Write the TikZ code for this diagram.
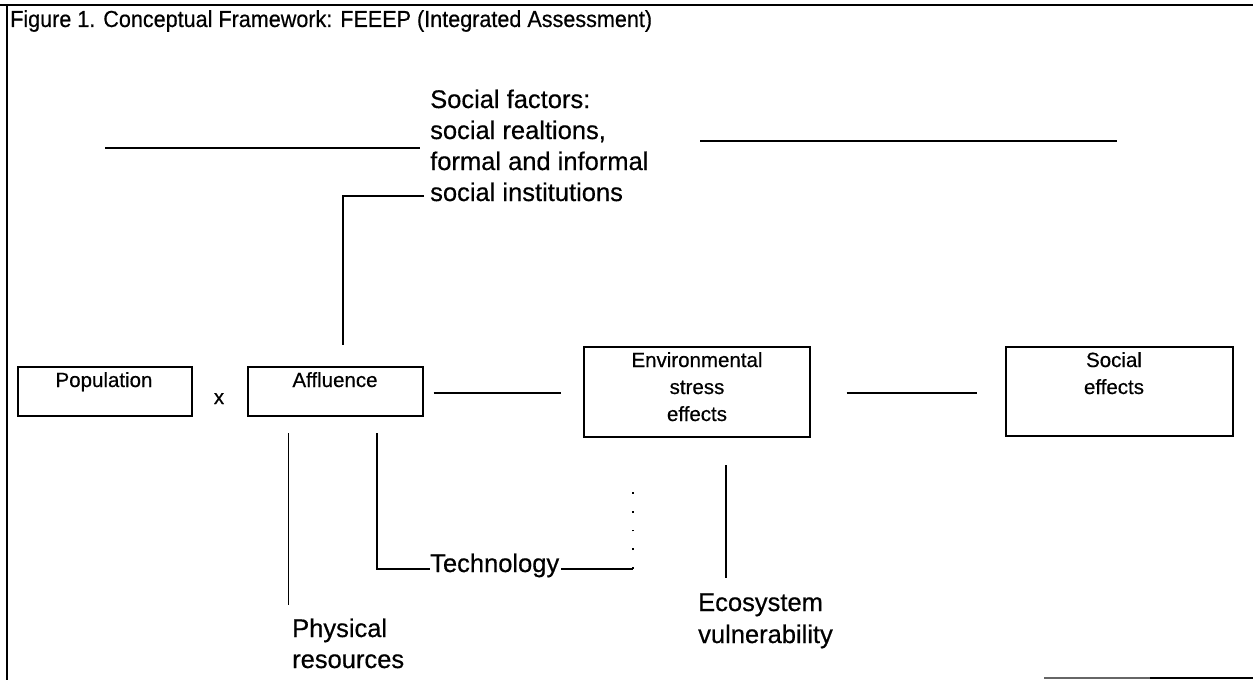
\documentclass[tikz,border=0pt]{standalone}
\usepackage{fontspec}
\setmainfont[FakeBold=0.5]{Liberation Sans}
\newfontfamily\titlefont[FakeStretch=0.93,FakeBold=0.5]{Liberation Sans}
\usetikzlibrary{calc}
\begin{document}
\begin{tikzpicture}[x=1pt,y=-1pt,
  boxnode/.style={draw=black, line width=1.2pt, inner sep=0pt},
  boxtext/.style={anchor=base, inner sep=0pt, font=\fontsize{20.5}{24}\selectfont},
  bigtext/.style={anchor=base west, inner sep=0pt, font=\fontsize{25.5}{31}\selectfont},
  titletext/.style={anchor=base west, inner sep=0pt, font=\titlefont\fontsize{23.2}{27}\selectfont},
  conn/.style={line width=1.2pt, black},
  thinconn/.style={line width=0.9pt, black},
  dotconn/.style={line width=1.3pt, black, dash pattern=on 1.8pt off 17pt},
  frame/.style={line width=2.6pt, black}]
\useasboundingbox (0,0) rectangle (1259,680);
% frame
\coordinate (ftl) at (0,5);
\coordinate (ftr) at (1253,5);
\coordinate (flt) at (7,4);
\coordinate (flb) at (7,680);
\coordinate (fbl) at (1044,678);
\coordinate (fbr) at (1253,678);
\draw[frame] (ftl) -- (ftr);
\draw[frame] (flt) -- (flb);
\draw[line width=1.6pt, black!60] (fbl) -- ($(fbl)+(106,0)$);
\draw[line width=2pt] ($(fbl)+(106,0)$) -- (fbr);
% title
\node[titletext] (title) at (10,27) {Figure 1. Conceptual Framework: FEEEP (Integrated Assessment)};
% social factors
\node[bigtext] (sf1) at (430,108) {Social factors:};
\node[bigtext] (sf2) at (430,139) {social realtions,};
\node[bigtext] (sf3) at (430,170) {formal and informal};
\node[bigtext] (sf4) at (430,201) {social institutions};
\coordinate (sll) at (105,148);
\coordinate (slr) at (420,148);
\coordinate (srl) at (700,141);
\coordinate (srr) at (1117,141);
\draw[conn] (sll) -- (slr);
\draw[conn] (srl) -- (srr);
% boxes
\node[boxnode, minimum width=174pt, minimum height=49pt] (pop) at (105,391.5) {};
\node[boxnode, minimum width=175pt, minimum height=49pt] (aff) at (335.5,391.5) {};
\node[boxnode, minimum width=226pt, minimum height=90pt] (env) at (697,392) {};
\node[boxnode, minimum width=227pt, minimum height=89pt] (soc) at (1119.5,391.5) {};
\node[boxtext] (popt) at (104,387) {Population};
\node[boxtext] (afft) at (335,387) {Affluence};
\node[boxtext] (envt1) at (697,367) {Environmental};
\node[boxtext] (envt2) at (697,394) {stress};
\node[boxtext] (envt3) at (697,421) {effects};
\node[boxtext] (soct1) at (1114,367) {Social};
\node[boxtext] (soct2) at (1114,394) {effects};
\node[boxtext] (times) at (219,404) {x};
% social institutions -> affluence
\coordinate (sic) at (343,196);
\coordinate (sia) at (343,345);
\draw[conn] ($(sf4.west |- sic)+(-6,0)$) -- (sic) -- (sia);
% main chain
\draw[conn] ($(aff.east)+(10,1.5)$) -- ($(env.west)+(-22,1)$);
\draw[conn] ($(env.east)+(36,1)$) -- ($(soc.west)+(-28,1.5)$);
% below affluence
\coordinate (phyt) at (288,433);
\coordinate (phyb) at (288,605);
\draw[thinconn] (phyt) -- (phyb);
\node[bigtext] (phy1) at (292,637) {Physical};
\node[bigtext] (phy2) at (292,668) {resources};
\coordinate (tect) at (377,433);
\coordinate (tecc) at (377,569);
\node[bigtext] (tech) at (430,572) {Technology};
\draw[conn] (tect) -- (tecc) -- (tecc -| tech.west);
\coordinate (tecr) at (633,569);
\coordinate (tecu) at (633,484);
\draw[conn] ($(tecr -| tech.east)+(2,0)$) -- (tecr);
\draw[dotconn] (tecr) -- (tecu);
% ecosystem
\coordinate (ecot) at (726,465);
\coordinate (ecob) at (726,578);
\draw[conn] (ecot) -- (ecob);
\node[bigtext] (eco1) at (698,611) {Ecosystem};
\node[bigtext] (eco2) at (698,643) {vulnerability};
\end{tikzpicture}
\end{document}
